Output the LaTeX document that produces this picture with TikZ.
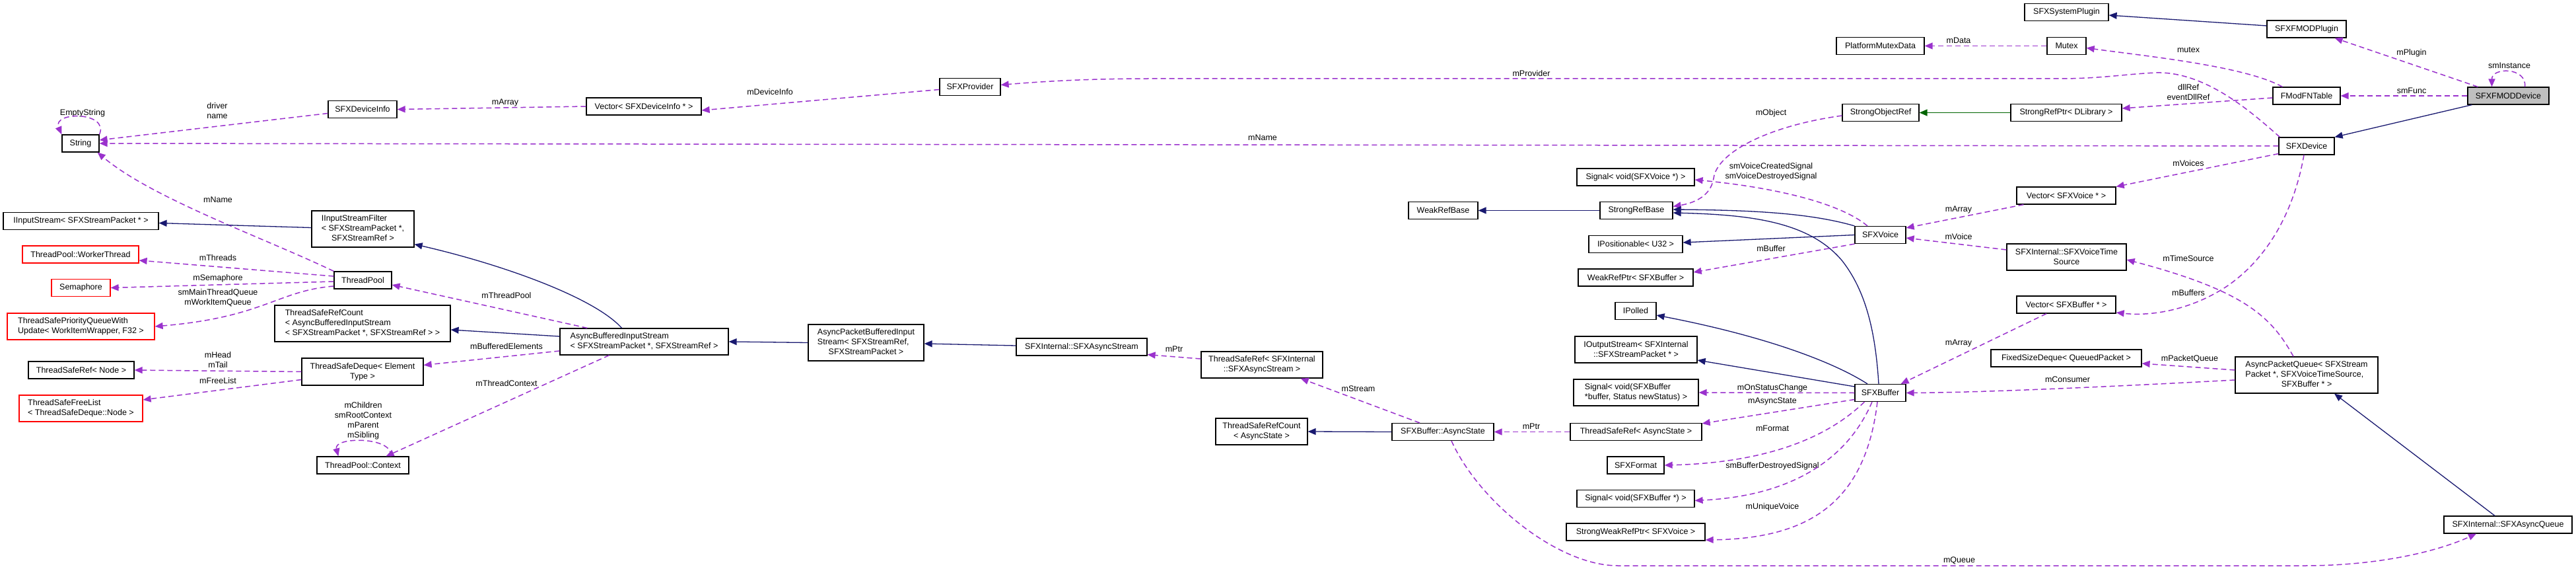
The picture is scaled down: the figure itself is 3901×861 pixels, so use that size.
\documentclass[tikz,border=0pt]{standalone}
\usepackage{fontspec}
\setmainfont{Liberation Sans}
\usetikzlibrary{arrows.meta}
\definecolor{dorchid}{HTML}{9A32CD}
\definecolor{mblue}{HTML}{191970}
\definecolor{dgreen}{HTML}{006400}
\newcommand\lefttab[1]{\begin{tabular}{@{}l@{}}#1\end{tabular}}
\newcommand\ctr[1]{\multicolumn{1}{@{}c@{}}{#1}}
\tikzset{
 cls/.style={draw=black, line width=1.2pt, fill=white, inner sep=2pt, font=\fontsize{12.5}{15}\selectfont, align=center, text=black},
 rcls/.style={cls, draw=red},
 wh/.style 2 args={minimum width=#1pt, minimum height=#2pt},
 lbl/.style={font=\fontsize{12.5}{15}\selectfont, inner sep=0pt, align=center},
 usesE/.style={draw=dorchid, line width=1.5pt, dash pattern=on 8pt off 5pt, -{Triangle[length=12pt,width=10pt]}},
 inhE/.style={draw=mblue, line width=1.3pt, -{Triangle[length=12pt,width=10pt]}},
 tmplE/.style={draw=dgreen, line width=1.3pt, -{Triangle[length=12pt,width=10pt]}},
}
\begin{document}
\begin{tikzpicture}[x=1pt,y=-1pt]
\fill[white] (0,0) rectangle (3901,861);
\useasboundingbox (0,0) rectangle (3901,861);
% ---------------- nodes
\node[cls,wh={56}{26}] (String) at (122,217) {String};
\node[cls,wh={104}{26}] (DevInfo) at (549,165.5) {SFXDeviceInfo};
\node[cls,wh={174}{26}] (VecDevInfo) at (975,161) {Vector< SFXDeviceInfo * >};
\node[cls,wh={92}{26}] (Provider) at (1469,131.5) {SFXProvider};
\node[cls,wh={235}{26}] (IIn) at (122.5,334.5) {IInputStream< SFXStreamPacket * >};
\node[cls,wh={155}{55}] (IInF) at (549.5,346.5) {\lefttab{IInputStreamFilter\\< SFXStreamPacket *,\\\ctr{SFXStreamRef >}}};
\node[rcls,wh={176}{26}] (Worker) at (122,385) {ThreadPool::WorkerThread};
\node[cls,wh={87}{26}] (TPool) at (549.5,424) {ThreadPool};
\node[rcls,wh={89}{26}] (Sema) at (122.5,435.5) {Semaphore};
\node[rcls,wh={223}{40}] (TSPQ) at (122.5,494) {\lefttab{ThreadSafePriorityQueueWith\\Update< WorkItemWrapper, F32 >}};
\node[cls,wh={266}{55}] (TSRCABIS) at (549,489.5) {\lefttab{ThreadSafeRefCount\\< AsyncBufferedInputStream\\< SFXStreamPacket *, SFXStreamRef > >}};
\node[cls,wh={255}{40}] (ABIS) at (975.5,517) {\lefttab{AsyncBufferedInputStream\\< SFXStreamPacket *, SFXStreamRef >}};
\node[cls,wh={160}{26}] (TSRNode) at (123,560) {ThreadSafeRef< Node >};
\node[cls,wh={184}{41}] (TSDeque) at (549,562.5) {ThreadSafeDeque< Element\\Type >};
\node[rcls,wh={187}{40}] (TSFree) at (122.5,618) {\lefttab{ThreadSafeFreeList\\< ThreadSafeDeque::Node >}};
\node[cls,wh={139}{26}] (TPCtx) at (549.5,704) {ThreadPool::Context};
\node[cls,wh={175}{55}] (APBIS) at (1311.5,518.5) {\lefttab{AsyncPacketBufferedInput\\Stream< SFXStreamRef,\\\ctr{SFXStreamPacket >}}};
\node[cls,wh={198}{26}] (AStream) at (1638,525) {SFXInternal::SFXAsyncStream};
\node[cls,wh={184}{40}] (TSRAS) at (1911,552) {ThreadSafeRef< SFXInternal\\::SFXAsyncStream >};
\node[cls,wh={139}{40}] (TSRCState) at (1910.5,653) {ThreadSafeRefCount\\< AsyncState >};
\node[cls,wh={133}{26}] (PMD) at (2847.5,69.5) {PlatformMutexData};
\node[cls,wh={116}{26}] (SOR) at (2848,170.5) {StrongObjectRef};
\node[cls,wh={178}{26}] (SigVoice) at (2477,268) {Signal< void(SFXVoice *) >};
\node[cls,wh={105}{26}] (WRB) at (2185.5,318.5) {WeakRefBase};
\node[cls,wh={110}{26}] (SRB) at (2478,318.5) {StrongRefBase};
\node[cls,wh={77}{26}] (Voice) at (2847.5,355.5) {SFXVoice};
\node[cls,wh={142}{26}] (IPos) at (2477,369.5) {IPositionable< U32 >};
\node[cls,wh={174}{26}] (WRP) at (2477,420) {WeakRefPtr< SFXBuffer >};
\node[cls,wh={62}{26}] (IPolled) at (2477,470.5) {IPolled};
\node[cls,wh={185}{40}] (IOut) at (2477.5,529) {IOutputStream< SFXInternal\\::SFXStreamPacket * >};
\node[cls,wh={189}{40}] (SigStat) at (2477.5,594) {\lefttab{Signal< void(SFXBuffer\\{*}buffer, Status newStatus) >}};
\node[cls,wh={77}{26}] (Buffer) at (2847.5,594.5) {SFXBuffer};
\node[cls,wh={154}{26}] (AState) at (2185,653.5) {SFXBuffer::AsyncState};
\node[cls,wh={199}{26}] (TSRState) at (2477.5,653.5) {ThreadSafeRef< AsyncState >};
\node[cls,wh={86}{26}] (Format) at (2477,704) {SFXFormat};
\node[cls,wh={178}{26}] (SigBuf) at (2477,754.5) {Signal< void(SFXBuffer *) >};
\node[cls,wh={210}{26}] (SWRP) at (2477,805) {StrongWeakRefPtr< SFXVoice >};
\node[cls,wh={127}{26}] (SysPlug) at (3129.5,18.5) {SFXSystemPlugin};
\node[cls,wh={120}{26}] (FPlug) at (3493,44) {SFXFMODPlugin};
\node[cls,wh={59}{26}] (Mutex) at (3129.5,69.5) {Mutex};
\node[cls,wh={123}{26},fill=black!25] (FDev) at (3798.5,145) {SFXFMODDevice};
\node[cls,wh={102}{26}] (FTable) at (3493,145) {FModFNTable};
\node[cls,wh={168}{26}] (SRPD) at (3129,170.5) {StrongRefPtr< DLibrary >};
\node[cls,wh={84}{26}] (Device) at (3493,221) {SFXDevice};
\node[cls,wh={150}{26}] (VecVoice) at (3129,296) {Vector< SFXVoice * >};
\node[cls,wh={181}{40}] (VTS) at (3129.5,389) {SFXInternal::SFXVoiceTime\\Source};
\node[cls,wh={150}{26}] (VecBuf) at (3129,461) {Vector< SFXBuffer * >};
\node[cls,wh={228}{26}] (FSD) at (3129,542) {FixedSizeDeque< QueuedPacket >};
\node[cls,wh={216}{55}] (APQ) at (3493,567.5) {\lefttab{AsyncPacketQueue< SFXStream\\Packet *, SFXVoiceTimeSource,\\\ctr{SFXBuffer * >}}};
\node[cls,wh={194}{26}] (AQueue) at (3798,794) {SFXInternal::SFXAsyncQueue};
% ---------------- labels
\node[lbl] (lEmpty) at (125,171) {EmptyString};
\node[lbl] (lDriver) at (329,167.5) {driver\\name};
\node[lbl] (lArr1) at (765,155) {mArray};
\node[lbl] (lDevInfo) at (1166,139) {mDeviceInfo};
\node[lbl] (lProv) at (2319,111) {mProvider};
\node[lbl] (lName1) at (1912,208) {mName};
\node[lbl] (lName2) at (330,302) {mName};
\node[lbl] (lThreads) at (330,390) {mThreads};
\node[lbl] (lSema) at (330,421) {mSemaphore};
\node[lbl] (lQueues) at (330,450.5) {smMainThreadQueue\\mWorkItemQueue};
\node[lbl] (lTPool) at (767,447) {mThreadPool};
\node[lbl] (lBufEl) at (767,524) {mBufferedElements};
\node[lbl] (lHead) at (330,544.5) {mHead\\mTail};
\node[lbl] (lFree) at (330,576) {mFreeList};
\node[lbl] (lTCtx) at (767,580) {mThreadContext};
\node[lbl] (lCtx) at (550,636.5) {mChildren\\smRootContext\\mParent\\mSibling};
\node[lbl] (lPtr1) at (1778,528) {mPtr};
\node[lbl] (lStream) at (2057,588) {mStream};
\node[lbl] (lPtr2) at (2319,645) {mPtr};
\node[lbl] (lQueue) at (2967,848) {mQueue};
\node[lbl] (lData) at (2966,61) {mData};
\node[lbl] (lObj) at (2682,171) {mObject};
\node[lbl] (lSig) at (2682,259.5) {smVoiceCreatedSignal\\smVoiceDestroyedSignal};
\node[lbl] (lArr2) at (2966,317) {mArray};
\node[lbl] (lVoice) at (2966,358) {mVoice};
\node[lbl] (lBuffer) at (2682,376) {mBuffer};
\node[lbl] (lOnStat) at (2684,587) {mOnStatusChange};
\node[lbl] (lAsync) at (2684,607) {mAsyncState};
\node[lbl] (lFormat) at (2684,648) {mFormat};
\node[lbl] (lDestr) at (2684,705) {smBufferDestroyedSignal};
\node[lbl] (lUnique) at (2684,767) {mUniqueVoice};
\node[lbl] (lArr3) at (2966,519) {mArray};
\node[lbl] (lMutex) at (3314,76) {mutex};
\node[lbl] (lPlugin) at (3652,80) {mPlugin};
\node[lbl] (lInst) at (3800,99) {smInstance};
\node[lbl] (lFunc) at (3652,137) {smFunc};
\node[lbl] (lDll) at (3314,139.5) {dllRef\\eventDllRef};
\node[lbl] (lVoices) at (3314,247) {mVoices};
\node[lbl] (lTime) at (3314,391) {mTimeSource};
\node[lbl] (lBuffers) at (3314,443) {mBuffers};
\node[lbl] (lPQ) at (3316,543) {mPacketQueue};
\node[lbl] (lCons) at (3131,574) {mConsumer};
% ---------------- edges (left part)
\draw[usesE] ([yshift=-6pt]DevInfo.west) -- ([yshift=5pt]String.east);
\draw[usesE] (String.north east) .. controls +(15,-35) and +(-15,-35) .. (String.north west);
\draw[usesE] (VecDevInfo.west) -- (DevInfo.east);
\draw[usesE] ([yshift=-4pt]Provider.west) -- ([yshift=-6pt]VecDevInfo.east);
\draw[usesE] ([xshift=2pt]Device.north west) .. controls (3410,170) and (3340,108) .. (3265,110) .. controls (3220,112) and (3180,119) .. (3120,119) -- (1740,119) .. controls (1640,119) and (1570,124) .. ([yshift=3pt]Provider.east);
\draw[usesE] (Device.west) -- (String.east);
\draw[usesE] (TPool.north west) .. controls (400,360) and (230,300) .. ([xshift=-3pt]String.south east);
\draw[usesE] ([yshift=6pt]TPool.west) -- ([yshift=-9pt]Worker.east);
\draw[usesE] ([yshift=-2pt]TPool.west) -- (Sema.east);
\draw[usesE] ([yshift=-9pt]TPool.west) .. controls (420,440) and (400,480) .. (TSPQ.east);
\draw[inhE] ([yshift=2pt]IInF.west) -- ([yshift=-3pt]IIn.east);
\draw[inhE] ([xshift=-34pt]ABIS.north) .. controls (900,450) and (760,400) .. ([yshift=5pt]IInF.south east);
\draw[usesE] ([xshift=42pt]ABIS.north west) -- ([yshift=-7pt]TPool.east);
\draw[inhE] ([yshift=8pt]ABIS.west) -- ([yshift=-9.5pt]TSRCABIS.east);
\draw[usesE] ([yshift=-14pt]ABIS.west) -- ([yshift=10pt]TSDeque.east);
\draw[usesE] (TSDeque.west) -- (TSRNode.east);
\draw[usesE] ([yshift=-12pt]TSDeque.west) -- ([yshift=13pt]TSFree.east);
\draw[usesE] ([xshift=-53pt]ABIS.south) -- ([xshift=-35pt]TPCtx.north east);
\draw[usesE] ([xshift=-28pt]TPCtx.north east) .. controls +(5,-30) and +(-8,-30) .. ([xshift=33pt]TPCtx.north west);
\draw[inhE] (APBIS.west) -- (ABIS.east);
\draw[inhE] ([yshift=2pt]AStream.west) -- ([yshift=-1.5pt]APBIS.east);
\draw[usesE] ([yshift=9pt]TSRAS.west) -- ([yshift=2pt]AStream.south east);
\draw[usesE] ([xshift=-35pt]AState.north) -- ([xshift=-34pt]TSRAS.south east);
\draw[inhE] (AState.west) -- (TSRCState.east);
\draw[usesE] (TSRState.west) -- (AState.east);
\draw[usesE] ([xshift=13pt]AState.south) .. controls (2240,760) and (2360,856) .. (2450,856) -- (3490,856) .. controls (3600,856) and (3690,835) .. ([xshift=-48pt]AQueue.south);
% ---------------- edges (right part)
\draw[inhE] ([xshift=-20pt]AQueue.north) -- ([xshift=42pt]APQ.south);
\draw[usesE] ([yshift=7.5pt]APQ.west) -- ([yshift=-8pt]FSD.east);
\draw[usesE] ([yshift=-7.5pt]APQ.west) .. controls (3200,585) and (3000,594) .. (Buffer.east);
\draw[usesE] ([xshift=-20pt]APQ.north) .. controls (3440,480) and (3400,440) .. ([yshift=-4pt]VTS.east);
\draw[usesE] ([xshift=-4pt]Device.south) .. controls (3470,340) and (3420,400) .. (3374,432) .. controls (3330,462) and (3270,480) .. ([yshift=-12pt]VecBuf.east);
\draw[usesE] ([yshift=2pt]Device.south west) -- (VecVoice.north east);
\draw[usesE] ([xshift=11pt]VecVoice.south west) -- ([yshift=-3pt]Voice.north east);
\draw[usesE] ([yshift=11pt]VTS.west) -- ([yshift=-4.5pt]Voice.east);
\draw[usesE] ([xshift=-30pt]VecBuf.south) -- ([xshift=-8pt]Buffer.north east);
\draw[usesE] ([yshift=-4.5pt]SOR.west) .. controls (2680,190) and (2600,230) .. (2595,270) .. controls (2590,300) and (2560,308) .. ([yshift=6pt]SRB.east);
\draw[tmplE] (SRPD.west) -- (SOR.east);
\draw[usesE] ([yshift=-3pt]FTable.west) -- ([yshift=6.5pt]SRPD.east);
\draw[usesE] ([xshift=15pt]FTable.north west) .. controls (3400,100) and (3250,85) .. ([yshift=-3pt]Mutex.east);
\draw[usesE] (Mutex.west) -- (PMD.east);
\draw[inhE] ([yshift=5pt]FPlug.west) -- ([yshift=-4.5pt]SysPlug.east);
\draw[usesE] ([xshift=16pt]FDev.north west) -- ([xshift=-18pt]FPlug.south east);
\draw[usesE] (FDev.west) -- (FTable.east);
\draw[inhE] ([xshift=7pt]FDev.south west) -- (Device.north east);
\draw[usesE] ([xshift=-37pt]FDev.north east) .. controls +(3,-30) and +(0,-30) .. ([xshift=-25pt]FDev.north);
\draw[inhE] (Voice.north west) .. controls (2740,322) and (2650,318) .. ([yshift=1.5pt]SRB.east);
\draw[inhE] ([xshift=-2.5pt]Buffer.north) .. controls (2840,500) and (2825,440) .. (2790,395) .. controls (2740,335) and (2650,325) .. ([yshift=-3.5pt]SRB.east);
\draw[inhE] (Voice.west) -- ([yshift=2.5pt]IPos.east);
\draw[usesE] ([xshift=-19.5pt]Voice.north) .. controls (2790,310) and (2700,285) .. ([yshift=-4pt]SigVoice.east);
\draw[usesE] (Voice.south west) -- ([yshift=8pt]WRP.east);
\draw[inhE] (SRB.west) -- (WRB.east);
\draw[inhE] ([xshift=-19.5pt]Buffer.north) .. controls (2780,550) and (2680,510) .. ([yshift=-6.5pt]IPolled.east);
\draw[inhE] ([yshift=9.5pt]Buffer.west) -- ([yshift=-16pt]IOut.east);
\draw[usesE] (Buffer.west) -- (SigStat.east);
\draw[usesE] ([yshift=-10pt]Buffer.west) -- ([yshift=-1pt]TSRState.north east);
\draw[usesE] ([xshift=-24pt]Buffer.south) .. controls (2770,660) and (2680,700) .. (Format.east);
\draw[usesE] ([xshift=-12.5pt]Buffer.south) .. controls (2800,690) and (2720,750) .. ([yshift=-3pt]SigBuf.east);
\draw[usesE] ([xshift=-4.5pt]Buffer.south) .. controls (2825,760) and (2740,815) .. ([yshift=-12pt]SWRP.east);
\end{tikzpicture}
\end{document}
